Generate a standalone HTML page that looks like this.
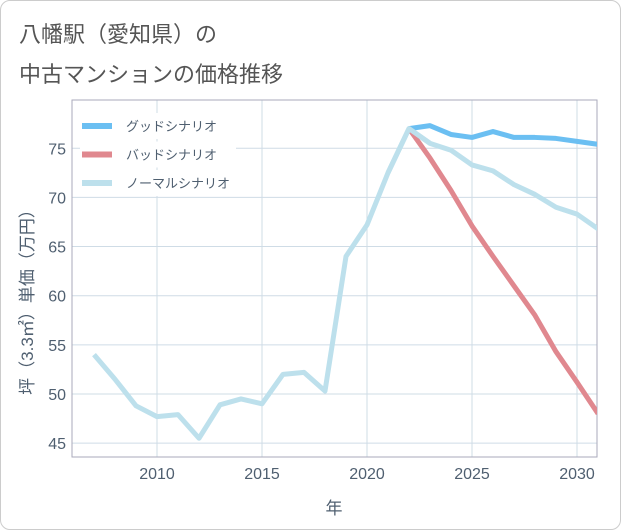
<!DOCTYPE html>
<html><head><meta charset="utf-8"><style>
body{margin:0;background:#fff;font-family:"Liberation Sans","Noto Sans CJK JP",sans-serif;}
#wrap{position:relative;width:619px;height:528px;border:1px solid #ccc;border-radius:10px;overflow:hidden;background:#fff}
.t{position:absolute;left:18px;font-size:22px;color:#555;}
</style></head><body>
<div id="wrap">
<div class="t" style="top:16px">八幡駅（愛知県）の</div>
<div class="t" style="top:56px">中古マンションの価格推移</div>
<svg id="c" width="621" height="530" style="position:absolute;left:-1px;top:-1px"></svg>
</div>
<script>
const years=[2007,2008,2009,2010,2011,2012,2013,2014,2015,2016,2017,2018,2019,2020,2021,2022,2023,2024,2025,2026,2027,2028,2029,2030,2031];
const normal=[54,51.5,48.8,47.7,47.9,45.5,48.9,49.5,49.0,52.0,52.2,50.3,64.0,67.2,72.5,77.0,75.5,74.8,73.3,72.7,71.3,70.3,69.0,68.3,66.8];
const goodYears=[2022,2023,2024,2025,2026,2027,2028,2029,2030,2031];
const good=[77,77.3,76.4,76.1,76.7,76.1,76.1,76.0,75.7,75.4];
const bad=[77,74.0,70.7,67.1,64.0,61.0,58.0,54.3,51.2,48.0];
const xTicks=[2010,2015,2020,2025,2030];
const yTicks=[45,50,55,60,65,70,75];
const L=72,R=597,T=100,B=457;
const xs=y=>157+(y-2010)*21;
const ys=v=>394-(v-50)*9.83;
const svg=document.getElementById('c');
const NS='http://www.w3.org/2000/svg';
const TXT='#4f5f70';
function mk(tag,attrs){const e=document.createElementNS(NS,tag);for(const k in attrs)e.setAttribute(k,attrs[k]);svg.appendChild(e);return e;}
for(const v of yTicks){
 const g=mk('line',{x1:L,x2:R,y1:ys(v),y2:ys(v),stroke:'#cfdce6','stroke-width':1});
 
 
 const t=mk('text',{x:L-6,y:ys(v)+6,'text-anchor':'end','font-size':16,fill:TXT});t.textContent=v;
 
 
}
for(const y of xTicks){
 const g=mk('line',{x1:xs(y),x2:xs(y),y1:T,y2:B,stroke:'#cfdce6','stroke-width':1});
 
 
 const t=mk('text',{x:xs(y),y:B+22,'text-anchor':'middle','font-size':16,fill:TXT});t.textContent=y;
 
 
}
const frame=mk('rect',{x:L,y:T,width:R-L,height:B-T,fill:'none',stroke:'#aab','stroke-width':1});


const clip=mk('clipPath',{id:'pc'});const cr=document.createElementNS(NS,'rect');
cr.setAttribute('x',L);cr.setAttribute('y',T);cr.setAttribute('width',R-L);cr.setAttribute('height',B-T);clip.appendChild(cr);
function line(xv,yv,color,name){
 const p=mk('polyline',{points:xv.map((x,i)=>xs(x)+','+ys(yv[i])).join(' '),fill:'none',stroke:color,'stroke-width':5,'stroke-linejoin':'round','clip-path':'url(#pc)'});
 
 
}
line(years,normal,'#bde0ec','normal-scenario-line');
line(goodYears,bad,'#e0888f','bad-scenario-line');
line(goodYears,good,'#6bbff2','good-scenario-line');
line(years.slice(14,17),normal.slice(14,17),'#bde0ec','normal-scenario-peak');
const leg=[['グッドシナリオ','#6bbff2'],['バッドシナリオ','#e0888f'],['ノーマルシナリオ','#bde0ec']];
leg.forEach((l,i)=>{
 const y=126+i*28.5;
 const bg=mk('rect',{x:80,y:y-13,width:(i==2?170:156),height:26,fill:'#fff'});
 
 
 const s=mk('line',{x1:82,x2:112,y1:y,y2:y,stroke:l[1],'stroke-width':6});
 
 
 const t=mk('text',{x:126,y:y+5,'font-size':13,fill:TXT});t.textContent=l[0];
 
 
});
const xt=mk('text',{x:334,y:514,'text-anchor':'middle','font-size':17,fill:TXT});xt.textContent='年';


const yt=mk('text',{x:0,y:0,'text-anchor':'middle','font-size':17,fill:TXT,transform:'translate(33,298) rotate(-90)'});yt.textContent='坪（3.3㎡）単価（万円）';


</script>
</body></html>
